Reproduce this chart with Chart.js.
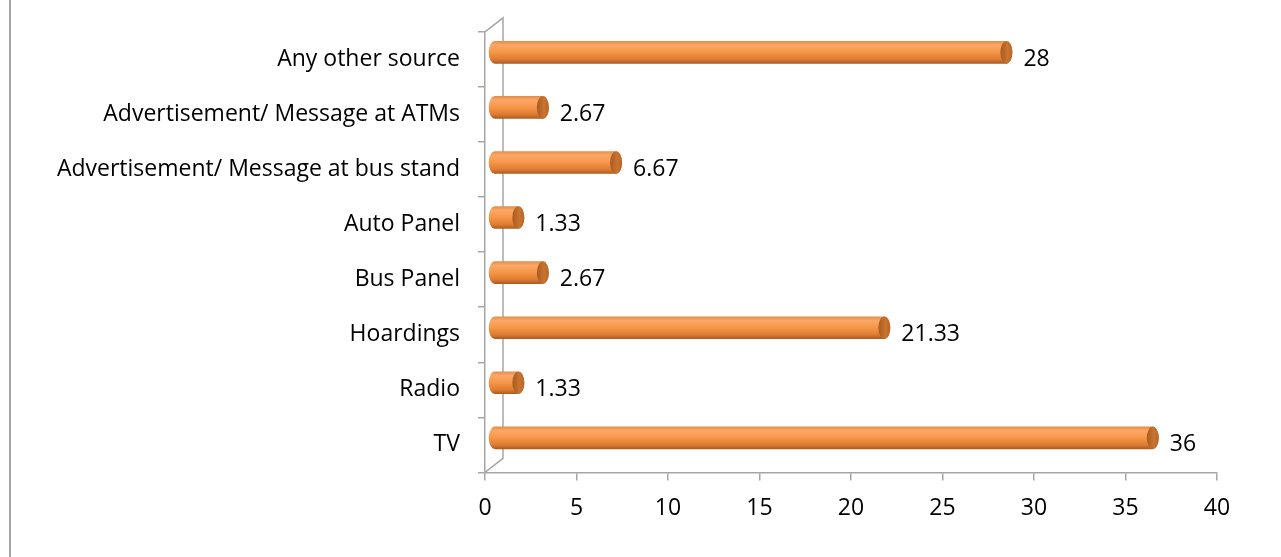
<!DOCTYPE html>
<html>
<head>
<meta charset="utf-8">
<script src="https://cdn.jsdelivr.net/npm/chart.js@4/dist/chart.umd.min.js"></script>
<style>
  html, body { margin: 0; padding: 0; background: #fff; }
  #wrap { width: 1281px; height: 557px; position: relative; }
</style>
</head>
<body>
<div id="wrap"><canvas id="barChart" width="1281" height="557"></canvas></div>
<script>
// source order (Excel draws first category at the bottom)
const categories = [
  "TV",
  "Radio",
  "Hoardings",
  "Bus Panel",
  "Auto Panel",
  "Advertisement/ Message at bus stand",
  "Advertisement/ Message at ATMs",
  "Any other source"
];
const values = [36, 1.33, 21.33, 2.67, 1.33, 6.67, 2.67, 28];
const xTicks = [0, 5, 10, 15, 20, 25, 30, 35, 40];

const FONT = "'Open Sans', sans-serif";
const FONT_SIZE = 23;
const GRAY = "#a6a6a6";
const DEPTH_X = 18, DEPTH_Y = 14;   // 3d wall offset
const BAR_DX = 9, BAR_DY = -7;      // bars sit halfway into the depth

const cylinders = {
  id: "cylinders",
  beforeDraw(chart) {
    const c = chart.ctx;
    const a = chart.chartArea;
    c.save();
    c.strokeStyle = GRAY;
    c.lineWidth = 2;
    // outer frame line on the left
    c.beginPath();
    c.moveTo(10, 0);
    c.lineTo(10, chart.height);
    c.stroke();
    // back wall of the 3d plot
    c.lineWidth = 1.5;
    c.beginPath();
    c.moveTo(a.left, a.top);
    c.lineTo(a.left + DEPTH_X, a.top - DEPTH_Y);
    c.lineTo(a.left + DEPTH_X, a.bottom - DEPTH_Y);
    c.lineTo(a.left, a.bottom);
    c.stroke();
    c.restore();
  },
  afterDatasetsDraw(chart) {
    const c = chart.ctx;
    const meta = chart.getDatasetMeta(0);
    meta.data.forEach((el, i) => {
      const x0 = el.base + BAR_DX;
      const x1 = el.x + BAR_DX;
      const yc = el.y + BAR_DY;
      const r = el.height / 2;
      const rx = 6;
      const g = c.createLinearGradient(0, yc - r, 0, yc + r);
      g.addColorStop(0, "#e38c48");
      g.addColorStop(0.18, "#fba868");
      g.addColorStop(0.5, "#f79646");
      g.addColorStop(0.82, "#dc7a32");
      g.addColorStop(1, "#a85a1e");
      c.save();
      c.beginPath();
      c.moveTo(x0, yc - r);
      c.lineTo(x1, yc - r);
      c.ellipse(x1, yc, rx, r, 0, -Math.PI / 2, Math.PI / 2);
      c.lineTo(x0, yc + r);
      c.ellipse(x0, yc, rx, r, 0, Math.PI / 2, Math.PI * 1.5);
      c.closePath();
      c.fillStyle = g;
      c.fill();
      // end cap
      const g2 = c.createLinearGradient(x1 - rx, 0, x1 + rx, 0);
      g2.addColorStop(0, "#a95b20");
      g2.addColorStop(0.6, "#c97430");
      g2.addColorStop(1, "#b8652a");
      c.beginPath();
      c.ellipse(x1, yc, rx, r, 0, 0, Math.PI * 2);
      c.fillStyle = g2;
      c.fill();
      c.restore();

      // value label
      c.save();
      c.font = FONT_SIZE + "px " + FONT;
      c.fillStyle = "#000";
      c.textAlign = "left";
      c.textBaseline = "middle";
      c.fillText(String(values[i]), el.x + 26, el.y);
      c.restore();
    });
  }
};

const ctx = document.getElementById("barChart");

new Chart(ctx, {
  type: "bar",
  data: {
    labels: categories,
    datasets: [
      {
        data: values,
        backgroundColor: "rgba(0,0,0,0)",
        borderWidth: 0,
        categoryPercentage: 1,
        barPercentage: 0.41
      }
    ]
  },
  options: {
    indexAxis: "y",
    responsive: false,
    animation: false,
    layout: { padding: { top: 30, right: 64, bottom: 21, left: 0 } },
    plugins: {
      legend: { display: false },
      tooltip: { enabled: false }
    },
    scales: {
      x: {
        min: 0,
        max: 40,
        afterBuildTicks: (scale) => {
          scale.ticks = xTicks.map((v) => ({ value: v }));
        },
        grid: {
          drawOnChartArea: false,
          tickLength: 8,
          color: GRAY,
          lineWidth: 1.5
        },
        border: { color: GRAY, width: 1.5 },
        ticks: { color: "#000", font: { family: FONT, size: FONT_SIZE }, padding: 14, maxRotation: 0 }
      },
      y: {
        reverse: true,
        afterFit: (scale) => { scale.width = 485; },
        grid: {
          drawOnChartArea: false,
          tickLength: 7,
          color: GRAY,
          lineWidth: 1.5
        },
        border: { color: GRAY, width: 1.5 },
        ticks: { color: "#000", font: { family: FONT, size: FONT_SIZE }, padding: 18 }
      }
    }
  },
  plugins: [cylinders]
});
</script>
</body>
</html>
